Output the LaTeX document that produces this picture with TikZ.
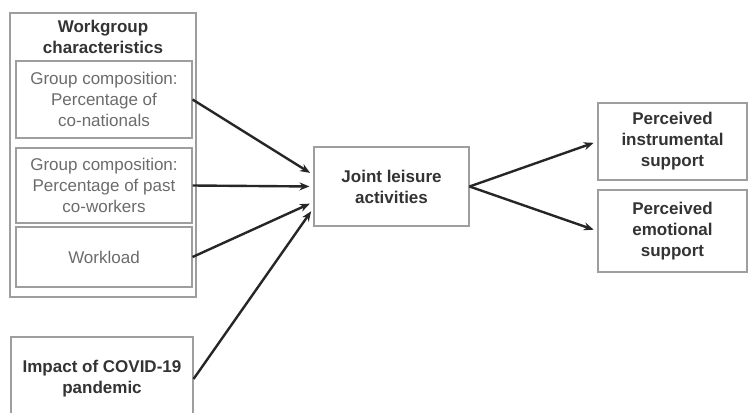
\documentclass[tikz,border=0pt]{standalone}
\usepackage{fontspec}
\setmainfont{Liberation Sans}
\usetikzlibrary{arrows.meta}
\definecolor{boxgray}{gray}{0.62}
\definecolor{txtgray}{gray}{0.42}
\definecolor{darktxt}{gray}{0.2}
\definecolor{arrowgray}{gray}{0.15}
\tikzset{
  box/.style={draw=boxgray, line width=1.1pt, align=center, inner sep=0pt,
    font=\fontsize{17}{21}\selectfont},
  plain/.style={box, text=txtgray},
  heavy/.style={box, text=darktxt, font=\fontsize{17}{21}\selectfont\bfseries},
  link/.style={-{Stealth[length=10pt,width=8pt]}, draw=arrowgray, line width=2.4pt, shorten >=4pt}
}
\begin{document}
\begin{tikzpicture}[x=1pt, y=-1pt]
    \useasboundingbox (0,0) rectangle (749,412);
    \clip (0,0) rectangle (749,412);

    \node[box, line width=2pt, minimum width=186pt, minimum height=284pt] (wg) at (103, 155) {};
    \node[heavy, draw=none] (wghead) at (103, 37) {Workgroup\\characteristics};
    \node[plain, minimum width=176pt, minimum height=77pt] (comp1) at (104, 99.5) {Group composition:\\Percentage of\\co-nationals};
    \node[plain, minimum width=176pt, minimum height=75pt] (comp2) at (104, 185.5) {Group composition:\\Percentage of past\\co-workers};
    \node[plain, minimum width=176pt, minimum height=60pt] (load) at (104, 257) {Workload};
    \node[heavy, minimum width=182pt, minimum height=84pt] (covid) at (102, 379) {Impact of COVID-19\\pandemic};
    \node[heavy, minimum width=155pt, minimum height=79pt] (joint) at (391.5, 186.5) {Joint leisure\\activities};
    \node[heavy, minimum width=149pt, minimum height=77pt] (instr) at (672.5, 141.5) {Perceived\\instrumental\\support};
    \node[heavy, minimum width=149pt, minimum height=82pt] (emo) at (672.5, 231) {Perceived\\emotional\\support};

    \draw [link] (comp1.east) to ([yshift=11.5pt]joint.west);
    \draw [link] (comp2.east) to (joint.west);
    \draw [link] (load.east) to ([yshift=-15.5pt]joint.west);
    \draw [link] (covid.east) to ([yshift=-21.5pt]joint.west);
    \draw [link] (joint.east) to (instr.west);
    \draw [link] (joint.east) to (emo.west);

\end{tikzpicture}
\end{document}
